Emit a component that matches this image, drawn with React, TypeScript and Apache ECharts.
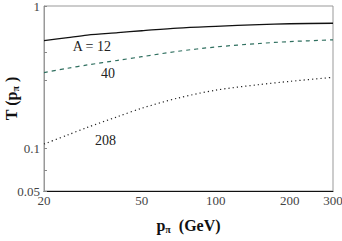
import React, { useEffect, useRef } from "react";
import * as echarts from "echarts";

const pT = [20, 25, 30, 40, 50, 70, 100, 150, 200, 300];
const tA12 = [0.57, 0.6, 0.625, 0.65, 0.67, 0.7, 0.72, 0.74, 0.75, 0.756];
const tA40 = [0.34, 0.365, 0.385, 0.415, 0.44, 0.48, 0.515, 0.545, 0.562, 0.578];
const tA208 = [0.107, 0.124, 0.14, 0.167, 0.191, 0.225, 0.256, 0.28, 0.295, 0.315];
const xTickLabels = [20, 50, 100, 200, 300];
const yTickLabels = [0.05, 0.1, 1];
const yMinorTicks = [0.05, 0.07, 0.1, 0.3, 0.47, 1];
const curveLabels = [
  { text: "A = 12", x: 31.3, y: 0.523 },
  { text: "40", x: 36.4, y: 0.337 },
  { text: "208", x: 35.6, y: 0.114 },
];

const lg = (v: number) => Math.log10(v);
const SERIF = "serif";

export default function App() {
  const ref = useRef<HTMLDivElement>(null);
  useEffect(() => {
    if (!ref.current) return;
    const chart = echarts.init(ref.current, null, { renderer: "svg" });
    const mk = (vals: number[]) => pT.map((x, i) => [lg(x), lg(vals[i])]);
    const tickRich = { t: { fontFamily: SERIF, fontSize: 13, color: "#444" } };
    const labelMP = (i: number) => ({
      symbol: "circle",
      symbolSize: 0,
      silent: true,
      label: {
        show: true,
        position: "inside",
        formatter: "{c|" + curveLabels[i].text + "}",
        rich: { c: { fontFamily: SERIF, fontSize: 14, color: "#222" } },
      },
      data: [{ coord: [lg(curveLabels[i].x), lg(curveLabels[i].y)] }],
    });
    const nameRich = {
      b: { fontFamily: SERIF, fontWeight: "bold", fontSize: 16, color: "#111" },
      s: { fontFamily: SERIF, fontWeight: "bold", fontSize: 10, color: "#111", verticalAlign: "bottom", padding: [7, 0, 0, 0] },
    };
    chart.setOption({
      animation: false,
      textStyle: { fontFamily: SERIF },
      grid: {
        left: 44,
        right: 9,
        top: 6,
        bottom: 50,
        containLabel: false,
        outerBoundsMode: "none",
        show: true,
        borderColor: "#999",
        borderWidth: 1,
        backgroundColor: "transparent",
      },
      xAxis: {
        type: "value",
        min: lg(20),
        max: lg(300),
        name: "{b|p}{s|π}{b|  (GeV)}",
        nameLocation: "middle",
        nameGap: 26,
        nameMoveOverlap: false,
        nameTextStyle: { rich: nameRich },
        axisLine: { show: true, onZero: false, lineStyle: { color: "#111", width: 1 } },
        axisTick: { show: false },
        splitLine: { show: false },
        axisLabel: {
          customValues: xTickLabels.map(lg),
          formatter: (v: number) => "{t|" + Math.round(Math.pow(10, v)) + "}",
          rich: tickRich,
          fontFamily: SERIF,
          margin: 3,
          hideOverlap: false,
        },
      },
      yAxis: {
        type: "value",
        min: lg(0.05),
        max: lg(1),
        name: "{b|T (p}{s|π}{b| )}",
        nameLocation: "middle",
        nameGap: 24,
        nameMoveOverlap: false,
        nameTextStyle: { rich: nameRich },
        axisLine: { show: true, onZero: false, lineStyle: { color: "#999", width: 1 } },
        axisTick: {
          show: true,
          inside: true,
          length: 3,
          customValues: yMinorTicks.map(lg),
          lineStyle: { color: "#888" },
        },
        splitLine: { show: false },
        axisLabel: {
          customValues: yTickLabels.map(lg),
          formatter: (v: number) => "{t|" + parseFloat(Math.pow(10, v).toPrecision(2)) + "}",
          rich: tickRich,
          fontFamily: SERIF,
          margin: 4,
        },
      },
      series: [
        {
          type: "line",
          data: mk(tA12),
          smooth: 0.3,
          showSymbol: false,
          lineStyle: { color: "#111", width: 1.3, type: "solid" },
          markPoint: labelMP(0),
        },
        {
          type: "line",
          data: mk(tA40),
          smooth: 0.3,
          showSymbol: false,
          lineStyle: { color: "#2f6f5f", width: 1.2, type: [4, 4] },
          markPoint: labelMP(1),
        },
        {
          type: "line",
          data: mk(tA208),
          smooth: 0.3,
          showSymbol: false,
          lineStyle: { color: "#222", width: 1.2, type: [1.2, 3] },
          markPoint: labelMP(2),
        },
      ],
    });
    return () => chart.dispose();
  }, []);
  return <div ref={ref} style={{ width: 342, height: 241, position: "absolute", left: 0, top: 0 }} />;
}
